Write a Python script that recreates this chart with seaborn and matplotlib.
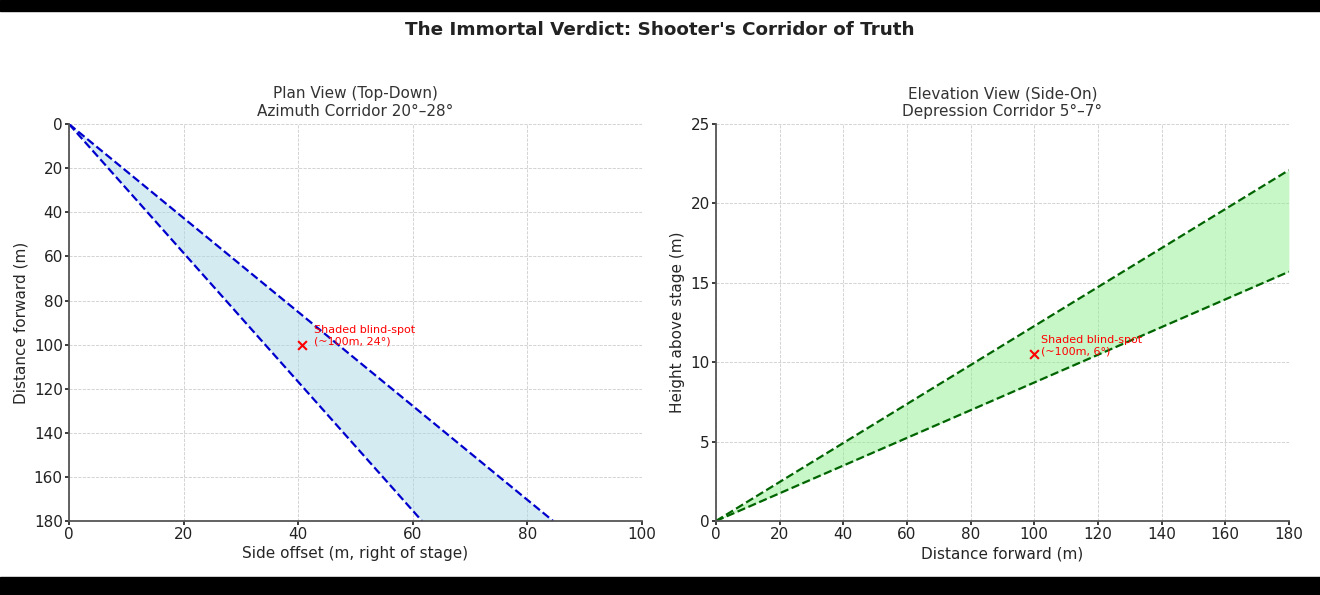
import numpy as np
import pandas as pd
import matplotlib
matplotlib.use("Agg")
import matplotlib.pyplot as plt
import seaborn as sns
from matplotlib.patches import Rectangle

# plan view: distance forward vs side offset of the two corridor edges
plan_distance = [0, 180]
plan_inner = [0, 61.6]    # 20 deg edge
plan_outer = [0, 84.5]    # 28 deg edge
plan_spot = (40.7, 100)

# elevation view: height above stage for the two corridor edges
elev_distance = [0, 180]
elev_low = [0, 15.7]      # 5 deg edge
elev_high = [0, 22.1]     # 7 deg edge
elev_spot = (100, 10.5)

sns.set_theme(style="ticks")
plt.rcParams['font.family'] = ['DejaVu Sans']

fig = plt.figure(figsize=(13.2, 5.95), dpi=100)
ax1 = fig.add_axes([0.0523, 0.1244, 0.434, 0.667])
ax2 = fig.add_axes([0.5424, 0.1244, 0.434, 0.667])

# letterbox bars of the original screenshot
fig.patches.append(Rectangle((0, 0.981), 1, 0.019, transform=fig.transFigure, color='black', zorder=0))
fig.patches.append(Rectangle((0, 0), 1, 0.031, transform=fig.transFigure, color='black', zorder=0))

# plan view
plan = pd.DataFrame({'distance': plan_distance, 'inner': plan_inner, 'outer': plan_outer})
ax1.fill_betweenx(plan['distance'], plan['inner'], plan['outer'], color='lightblue', alpha=0.5, lw=0)
sns.lineplot(data=plan, x='inner', y='distance', ax=ax1, color='mediumblue', linestyle='--', lw=1.6)
sns.lineplot(data=plan, x='outer', y='distance', ax=ax1, color='mediumblue', linestyle='--', lw=1.6)
ax1.scatter([plan_spot[0]], [plan_spot[1]], marker='x', color='red', s=40, zorder=5)
ax1.text(plan_spot[0] + 2, plan_spot[1], "Shaded blind-spot\n(~100m, 24°)", color='red', fontsize=8)
ax1.set_xlim(0, 100)
ax1.set_ylim(180, 0)
ax1.set_xticks(range(0, 101, 20))
ax1.set_yticks(range(0, 181, 20))
ax1.set_xlabel("Side offset (m, right of stage)", fontsize=11, labelpad=3)
ax1.set_ylabel("Distance forward (m)", fontsize=11)
ax1.set_title("Plan View (Top-Down)\nAzimuth Corridor 20°–28°", fontsize=11, color='#333333')

# elevation view
elev = pd.DataFrame({'distance': elev_distance, 'low': elev_low, 'high': elev_high})
ax2.fill_between(elev['distance'], elev['low'], elev['high'], color='lightgreen', alpha=0.5, lw=0)
sns.lineplot(data=elev, x='distance', y='high', ax=ax2, color='darkgreen', linestyle='--', lw=1.6)
sns.lineplot(data=elev, x='distance', y='low', ax=ax2, color='darkgreen', linestyle='--', lw=1.6)
ax2.scatter([elev_spot[0]], [elev_spot[1]], marker='x', color='red', s=40, zorder=5)
ax2.text(elev_spot[0] + 2, elev_spot[1], "Shaded blind-spot\n(~100m, 6°)", color='red', fontsize=8)
ax2.set_xlim(0, 180)
ax2.set_ylim(0, 25)
ax2.set_xticks(range(0, 181, 20))
ax2.set_yticks(range(0, 26, 5))
ax2.set_xlabel("Distance forward (m)", fontsize=11, labelpad=3)
ax2.set_ylabel("Height above stage (m)", fontsize=11)
ax2.set_title("Elevation View (Side-On)\nDepression Corridor 5°–7°", fontsize=11, color='#333333')

for ax in (ax1, ax2):
    ax.grid(True, linestyle='--', color='#cccccc', lw=0.6)
    ax.tick_params(labelsize=11, colors='#222222', length=3, pad=1.5)
    sns.despine(ax=ax)
    for s in ('left', 'bottom'):
        ax.spines[s].set_color('#555555')
        ax.spines[s].set_linewidth(1.3)

fig.text(0.5, 0.95, "The Immortal Verdict: Shooter's Corridor of Truth",
         ha='center', va='center', fontsize=13.2, fontweight='bold', color='#222222')

fig.savefig('out.png', dpi=100)
